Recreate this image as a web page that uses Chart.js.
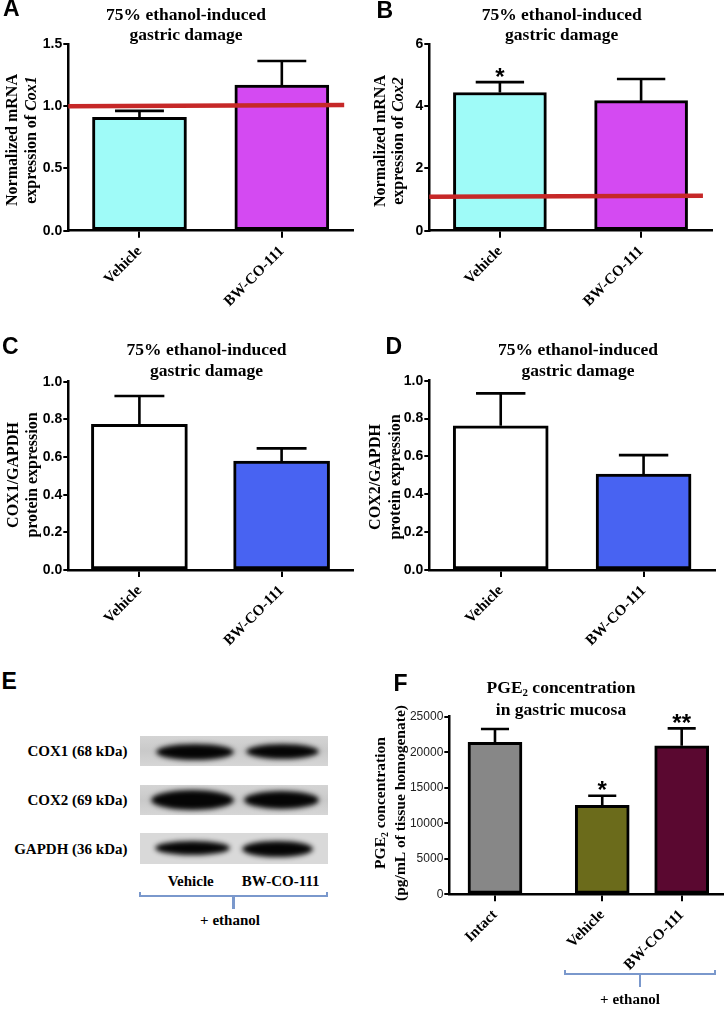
<!DOCTYPE html>
<html><head><meta charset="utf-8">
<script src="https://cdn.jsdelivr.net/npm/chart.js@4.4.1/dist/chart.umd.min.js"></script>
<style>
html,body{margin:0;padding:0;background:#fff;}
body{width:727px;height:1009px;position:relative;overflow:hidden;font-family:"Liberation Serif",serif;}
.t{position:absolute;white-space:nowrap;color:#000;}
.letter{position:absolute;font:bold 23px/23px "Liberation Sans",Arial,sans-serif;color:#000;}
.box{position:absolute;background:#d6d6d6;}
.band{position:absolute;background:#050505;border-radius:50%/50%;filter:blur(2.8px);}
.br{position:absolute;background:#7a98cc;}
</style>
</head><body>
<script>
// ---------- DATA ----------
const categoriesAB = ['Vehicle', 'BW-CO-111'];
const cox1mRNA = [0.91, 1.17];
const cox1mRNASem = [0.053, 0.193];
const refLineA = [1.0, 1.01];          // control level (normalized = 1)
const cox2mRNA = [4.44, 4.18];
const cox2mRNASem = [0.335, 0.695];
const refLineB = [1.09, 1.125];
const sigB = ['*', ''];
const cox1Protein = [0.774, 0.579];
const cox1ProteinSem = [0.150, 0.067];
const cox2Protein = [0.762, 0.507];
const cox2ProteinSem = [0.171, 0.100];
const categoriesF = ['Intact', 'Vehicle', 'BW-CO-111'];
const pge2 = [21390, 12520, 20900];
const pge2Sem = [1870, 1350, 2450];
const sigF = ['', '*', '**'];
const ticksA = [0, 0.5, 1.0, 1.5];
const ticksB = [0, 2, 4, 6];
const ticksCD = [0, 0.2, 0.4, 0.6, 0.8, 1.0];
const ticksF = [0, 5000, 10000, 15000, 20000, 25000];
const blotRows = ['COX1 (68 kDa)', 'COX2 (69 kDa)', 'GAPDH (36 kDa)'];
const blotLanes = ['Vehicle', 'BW-CO-111'];

// ---------- LAYOUT (not data) ----------
const groupXF = [0, 1.35, 2.35];   // F: Intact separated from ethanol groups

const SERIF = '"Liberation Serif", "Times New Roman", serif';
const SANS = '"Liberation Sans", Arial, sans-serif';

function drawRich(ctx, segs, x, y, rot, size) {
  ctx.save();
  ctx.translate(x, y);
  ctx.rotate(rot);
  let w = 0;
  const parts = segs.map(s => {
    const fs = s.sub ? size * 0.62 : size;
    const f = (s.i ? 'italic ' : '') + 'bold ' + fs + 'px ' + SERIF;
    ctx.font = f;
    const m = ctx.measureText(s.t).width;
    w += m;
    return { s, f, m };
  });
  let cx = -w / 2;
  ctx.textBaseline = 'middle';
  ctx.textAlign = 'left';
  ctx.fillStyle = '#000';
  parts.forEach(({ s, f, m }) => {
    ctx.font = f;
    ctx.fillText(s.t, cx, s.sub ? size * 0.32 : 0);
    cx += m;
  });
  ctx.restore();
}

function makePanel(p) {
  const [cx, cy, cw, ch] = p.box;
  const [x1, y1, x2, y2] = p.plot;
  const cv = document.createElement('canvas');
  cv.width = cw; cv.height = ch;
  cv.style.cssText = `position:absolute;left:${cx}px;top:${cy}px;width:${cw}px;height:${ch}px;`;
  document.body.appendChild(cv);

  const extras = {
    id: 'extras' + cx + '_' + cy,
    afterDatasetsDraw(chart) {
      const ctx = chart.ctx;
      const ys = chart.scales.y;
      const meta = chart.getDatasetMeta(0);
      ctx.save();
      meta.data.forEach((bar, i) => {
        const v = p.values[i], e = p.err[i];
        const topY = ys.getPixelForValue(v);
        const eY = ys.getPixelForValue(v + e);
        const half = p.barThickness * 0.26;
        ctx.strokeStyle = '#000';
        ctx.lineWidth = 2.6;
        ctx.lineCap = 'butt';
        ctx.beginPath();
        ctx.moveTo(bar.x, topY);
        ctx.lineTo(bar.x, eY);
        ctx.moveTo(bar.x - half, eY);
        ctx.lineTo(bar.x + half, eY);
        ctx.stroke();
        if (p.sig && p.sig[i]) {
          ctx.fillStyle = '#000';
          ctx.font = 'bold 24px ' + SANS;
          ctx.textAlign = 'center';
          ctx.textBaseline = 'alphabetic';
          ctx.fillText(p.sig[i], bar.x, eY - 11 + 13.7);
        }
      });
      if (p.ref) {
        const ca = chart.chartArea;
        const xa = ca.left, xb = ca.left + (ca.right - ca.left) * 0.969;
        ctx.strokeStyle = '#c62828';
        ctx.lineWidth = 4.5;
        ctx.beginPath();
        ctx.moveTo(xa, ys.getPixelForValue(p.ref[0]));
        ctx.lineTo(xb, ys.getPixelForValue(p.ref[1]));
        ctx.stroke();
      }
      ctx.restore();
    },
    afterDraw(chart) {
      const ctx = chart.ctx;
      p.title.forEach((line, k) => drawRich(ctx, line, p.titlePos.x - cx, p.titlePos.y[k] - cy, 0, p.titleSize || 17.5));
      p.ytitle.forEach((line, k) => drawRich(ctx, line, p.ytitlePos.x[k] - cx, p.ytitlePos.y - cy, -Math.PI / 2, p.ytitleSize || 16));
    }
  };

  const isLinearX = !!p.groupX;
  const xScale = {
    offset: !isLinearX,
    grid: { display: true, drawOnChartArea: false, drawTicks: true, tickLength: 7, color: '#000', lineWidth: 2, offset: false },
    border: { display: true, color: '#000', width: 2.5 },
    ticks: { autoSkip: false, minRotation: 45, maxRotation: 45, color: '#000', padding: 5,
      font: { family: SERIF, weight: 'bold', size: 15 } },
    afterFit: s => { s.height = cy + ch - y2; }
  };
  if (isLinearX) {
    Object.assign(xScale, {
      type: 'linear', min: p.xMin, max: p.xMax,
      afterBuildTicks: s => { s.ticks = p.groupX.map(v => ({ value: v })); }
    });
    xScale.ticks.callback = v => { const i = p.groupX.indexOf(v); return i >= 0 ? p.labels[i] : ''; };
  } else {
    xScale.type = 'category';
  }

  const data = isLinearX
    ? p.values.map((v, i) => ({ x: p.groupX[i], y: v }))
    : p.values;

  new Chart(cv, {
    type: 'bar',
    data: {
      labels: isLinearX ? undefined : p.labels,
      datasets: [{
        data,
        backgroundColor: p.colors,
        borderColor: '#000',
        borderWidth: 3,
        borderSkipped: false,
        barThickness: p.barThickness
      }]
    },
    options: {
      responsive: false, animation: false, devicePixelRatio: 1,
      layout: { padding: { left: 0, top: y1 - cy, right: cx + cw - x2, bottom: 0 } },
      plugins: { legend: { display: false }, tooltip: { enabled: false }, title: { display: false } },
      scales: {
        x: xScale,
        y: {
          type: 'linear', min: p.yTicks[0], max: p.yTicks[p.yTicks.length - 1],
          afterBuildTicks: s => { s.ticks = p.yTicks.map(v => ({ value: v })); },
          grid: { display: true, drawOnChartArea: false, drawTicks: true, tickLength: 5, color: '#000', lineWidth: 2 },
          border: { display: true, color: '#000', width: 2.5 },
          ticks: { color: p.yTickColor || '#000', padding: 1, callback: p.yFmt, font: p.yFont },
          afterFit: s => { s.width = x1 - cx; }
        }
      }
    },
    plugins: [extras]
  });
}

const titleEthanol = [[{ t: '75% ethanol-induced' }], [{ t: 'gastric damage' }]];
const fmt1 = v => Number(v).toFixed(1);
const fmt0 = v => String(v);
const boldSans14 = { family: SANS, weight: 'bold', size: 14 };

// A
makePanel({
  box: [0, 0, 360, 320], plot: [68.3, 44, 353, 230.7],
  labels: categoriesAB, values: cox1mRNA, err: cox1mRNASem, ref: refLineA,
  colors: ['#9ffbf8', '#d44af2'], barThickness: 94,
  yTicks: ticksA, yFmt: fmt1, yFont: boldSans14,
  title: titleEthanol, titlePos: { x: 186, y: [15, 35] },
  ytitle: [[{ t: 'Normalized mRNA' }], [{ t: 'expression of ' }, { t: 'Cox1', i: true }]],
  ytitlePos: { x: [13, 32], y: 140 }
});
// B
makePanel({
  box: [360, 0, 367, 320], plot: [429.3, 44, 711.7, 230.7],
  labels: categoriesAB, values: cox2mRNA, err: cox2mRNASem, ref: refLineB, sig: sigB,
  colors: ['#9ffbf8', '#d44af2'], barThickness: 93,
  yTicks: ticksB, yFmt: fmt0, yFont: boldSans14,
  title: titleEthanol, titlePos: { x: 561.7, y: [15, 35] },
  ytitle: [[{ t: 'Normalized mRNA' }], [{ t: 'expression of ' }, { t: 'Cox2', i: true }]],
  ytitlePos: { x: [381, 399], y: 141 }
});
// C
makePanel({
  box: [0, 320, 360, 345], plot: [68.3, 381.7, 352.7, 570],
  labels: categoriesAB, values: cox1Protein, err: cox1ProteinSem,
  colors: ['#ffffff', '#4863f2'], barThickness: 96,
  yTicks: ticksCD, yFmt: fmt1, yFont: boldSans14,
  title: titleEthanol, titlePos: { x: 206.5, y: [350, 371.7] },
  ytitle: [[{ t: 'COX1/GAPDH' }], [{ t: 'protein expression' }]],
  ytitlePos: { x: [14, 33], y: 475 }
});
// D
makePanel({
  box: [360, 320, 367, 345], plot: [429.3, 380.7, 715, 570],
  labels: categoriesAB, values: cox2Protein, err: cox2ProteinSem,
  colors: ['#ffffff', '#4863f2'], barThickness: 95,
  yTicks: ticksCD, yFmt: fmt1, yFont: boldSans14,
  title: titleEthanol, titlePos: { x: 578, y: [350, 371.7] },
  ytitle: [[{ t: 'COX2/GAPDH' }], [{ t: 'protein expression' }]],
  ytitlePos: { x: [376, 396], y: 477 }
});
// F
makePanel({
  box: [360, 665, 367, 344], plot: [449.3, 716.7, 723, 894.3],
  labels: categoriesF, values: pge2, err: pge2Sem, sig: sigF,
  groupX: groupXF, xMin: -0.575, xMax: 2.87,
  colors: ['#878787', '#6b6b1b', '#5a0830'], barThickness: 54,
  yTicks: ticksF, yFmt: fmt0, yFont: { family: SANS, weight: 'normal', size: 12 }, yTickColor: '#222',
  title: [[{ t: 'PGE' }, { t: '2', sub: true }, { t: ' concentration' }], [{ t: 'in gastric mucosa' }]],
  titlePos: { x: 561, y: [688, 710] },
  ytitle: [[{ t: 'PGE' }, { t: '2', sub: true }, { t: ' concentration' }], [{ t: '(pg/mL of tissue homogenate)' }]],
  ytitlePos: { x: [381, 401], y: 803 }, ytitleSize: 15.5
});

// ---------- HTML extras: panel letters, blot (E), braces ----------
function el(cls, css, text) {
  const d = document.createElement('div');
  d.className = cls;
  d.style.cssText = css;
  if (text !== undefined) d.textContent = text;
  document.body.appendChild(d);
  return d;
}
[['A', 3, -3], ['B', 376.5, -1.5], ['C', 2, 335], ['D', 385.5, 335], ['E', 1.5, 670], ['F', 393.5, 672]]
  .forEach(([l, x, y]) => el('letter', `left:${x}px;top:${y}px;`, l));

// Blot boxes and bands
const rowsY = [[735.7, 765.7], [785, 815], [833.3, 864]];
const bands = [
  [[156, 234, 751.5, 16], [246, 319, 751, 15]],
  [[151, 234, 799.5, 20], [244, 319, 800, 18]],
  [[155, 230, 848, 14], [242, 313, 849, 16]]
];
rowsY.forEach(([ya, yb], r) => {
  el('box', `left:140px;top:${ya}px;width:187.5px;height:${yb - ya}px;background:${r === 2 ? '#d9d9d9' : 'linear-gradient(#d4d4d4,#c9c9c9 50%,#d6d6d6)'};`);
  bands[r].forEach(([xa, xb, yc, h]) => el('band', `left:${xa}px;top:${yc - h / 2}px;width:${xb - xa}px;height:${h}px;`));
  el('t', `right:${727 - 127.5}px;top:${(ya + yb) / 2 - 9}px;font:bold 15px/18px ${SERIF};`, blotRows[r]);
});
[[190.7, blotLanes[0]], [280.7, blotLanes[1]]].forEach(([x, s]) =>
  el('t', `left:${x}px;top:${880.5 - 9}px;transform:translateX(-50%);font:bold 15px/18px ${SERIF};`, s));

function brace(xa, xb, y, xm, stem) {
  el('br', `left:${xa}px;top:${y}px;width:${xb - xa}px;height:2px;`);
  el('br', `left:${xa}px;top:${y - 3}px;width:2px;height:5px;`);
  el('br', `left:${xb - 2}px;top:${y - 3}px;width:2px;height:5px;`);
  el('br', `left:${xm - 1}px;top:${y}px;width:2.5px;height:${stem}px;`);
}
brace(139.3, 328.3, 895, 233.3, 14);
el('t', `left:230px;top:${920 - 9}px;transform:translateX(-50%);font:bold 15px/18px ${SERIF};`, '+ ethanol');
brace(563.5, 716, 973, 639.5, 13.5);
el('t', `left:630px;top:${999 - 9}px;transform:translateX(-50%);font:bold 15px/18px ${SERIF};`, '+ ethanol');
</script>
</body></html>
